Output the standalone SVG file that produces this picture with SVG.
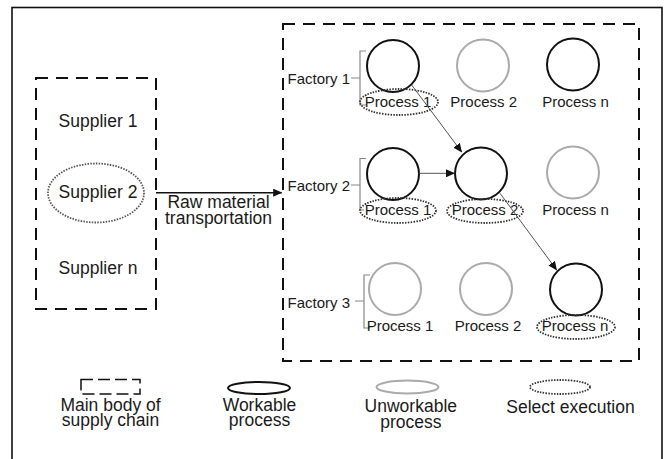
<svg xmlns="http://www.w3.org/2000/svg" width="668" height="459" viewBox="0 0 668 459">
<defs>
<style>
text{font-family:"Liberation Sans",Arial,sans-serif;fill:#1a1a1a}
.big{font-size:17.5px;text-anchor:middle}
.lbl{font-size:15px;text-anchor:middle}
.fac{font-size:15px}
.dash{fill:none;stroke:#111;stroke-width:2;stroke-dasharray:12 8}
.work{fill:none;stroke:#111;stroke-width:2}
.unwork{fill:none;stroke:#aaa;stroke-width:2}
.sel{fill:none;stroke:#333;stroke-width:1.8;stroke-dasharray:1.5 1.3}
.brk{fill:none;stroke:#888;stroke-width:1.2}
.conn{fill:none;stroke:#555;stroke-width:1}
</style>
<marker id="ah" markerWidth="9" markerHeight="8" refX="8.5" refY="4" orient="auto" markerUnits="userSpaceOnUse">
<path d="M0,0 L9,4 L0,8 Z" fill="#111"/>
</marker>
</defs>
<rect x="0" y="0" width="668" height="459" fill="#fff"/>
<rect x="12" y="7.5" width="650" height="470" fill="none" stroke="#111" stroke-width="1.6"/>

<g id="supplier-chain">
<rect class="dash" x="36" y="78" width="120" height="231"/>
<text class="big" x="98" y="127.3">Supplier 1</text>
<ellipse class="sel" cx="96" cy="193" rx="48" ry="29.5" style="stroke:#555"/>
<text class="big" x="98" y="198.3">Supplier 2</text>
<text class="big" x="98" y="274">Supplier n</text>
</g>

<g id="factories">
<rect class="dash" x="283" y="24" width="356" height="337"/>
</g>

<g id="factory1">
<text class="fac" x="287.5" y="84">Factory 1</text>
<path class="brk" d="M366,51 H360 V105 H366 M351,78 H360"/>
</g>
<g id="factory2">
<text class="fac" x="287.5" y="190.5">Factory 2</text>
<path class="brk" d="M366,158.5 H360 V210 H364 M351,185 H360"/>
</g>
<g id="factory3">
<text class="fac" x="287.5" y="308.3">Factory 3</text>
<path class="brk" d="M370,275 H364 V328 H370 M355,301 H364"/>
</g>

<g id="f1p1"><circle class="work" cx="393" cy="66" r="26"/><ellipse class="sel" cx="399" cy="102" rx="39" ry="13"/><text class="lbl" x="398" y="106.5">Process 1</text></g>
<g id="f1p2"><circle class="unwork" cx="483" cy="65.5" r="26"/><text class="lbl" x="483.7" y="106.5">Process 2</text></g>
<g id="f1pn"><circle class="work" cx="573" cy="64.5" r="26"/><text class="lbl" x="575.5" y="106.5">Process n</text></g>

<g id="f2p1"><circle class="work" cx="393" cy="174" r="26"/><ellipse class="sel" cx="398" cy="210.5" rx="38" ry="12.5"/><text class="lbl" x="398" y="215">Process 1</text></g>
<g id="f2p2"><circle class="work" cx="481" cy="173.5" r="26"/><ellipse class="sel" cx="485" cy="211" rx="38" ry="12"/><text class="lbl" x="485" y="215">Process 2</text></g>
<g id="f2pn"><circle class="unwork" cx="573" cy="172.5" r="26"/><text class="lbl" x="575.5" y="215">Process n</text></g>

<g id="f3p1"><circle class="unwork" cx="395" cy="289" r="26"/><text class="lbl" x="400" y="330.7">Process 1</text></g>
<g id="f3p2"><circle class="unwork" cx="486" cy="289" r="26"/><text class="lbl" x="488" y="330.7">Process 2</text></g>
<g id="f3pn"><circle class="work" cx="576" cy="289.5" r="26"/><ellipse class="sel" cx="576" cy="327" rx="39" ry="12"/><text class="lbl" x="575" y="330.7">Process n</text></g>

<g id="connectors">
<line x1="156" y1="192.7" x2="281.7" y2="192.7" stroke="#111" stroke-width="1.5" marker-end="url(#ah)"/>
<line class="conn" x1="411.7" y1="85" x2="461.7" y2="152" marker-end="url(#ah)"/>
<line class="conn" x1="419.3" y1="173.3" x2="454.5" y2="173.3" marker-end="url(#ah)"/>
<line class="conn" x1="500" y1="193.3" x2="556.7" y2="270" marker-end="url(#ah)"/>
<text class="big" x="218.5" y="208.3">Raw material</text>
<text class="big" x="218.5" y="224">transportation</text>
</g>

<g id="legend">
<rect x="81" y="379.5" width="59" height="14.5" fill="none" stroke="#111" stroke-width="1.5" stroke-dasharray="12 5"/>
<text class="big" x="110.5" y="410.7">Main body of</text>
<text class="big" x="110.5" y="426.3">supply chain</text>
<ellipse class="work" cx="259" cy="388" rx="31" ry="6"/>
<text class="big" x="259.5" y="410.7">Workable</text>
<text class="big" x="259.5" y="426.3">process</text>
<ellipse class="unwork" cx="407.5" cy="387" rx="31" ry="6.5"/>
<text class="big" x="410.8" y="412">Unworkable</text>
<text class="big" x="410.8" y="427.6">process</text>
<ellipse class="sel" cx="560" cy="387" rx="30" ry="7"/>
<text class="big" x="570.5" y="412.5">Select execution</text>
</g>
</svg>
